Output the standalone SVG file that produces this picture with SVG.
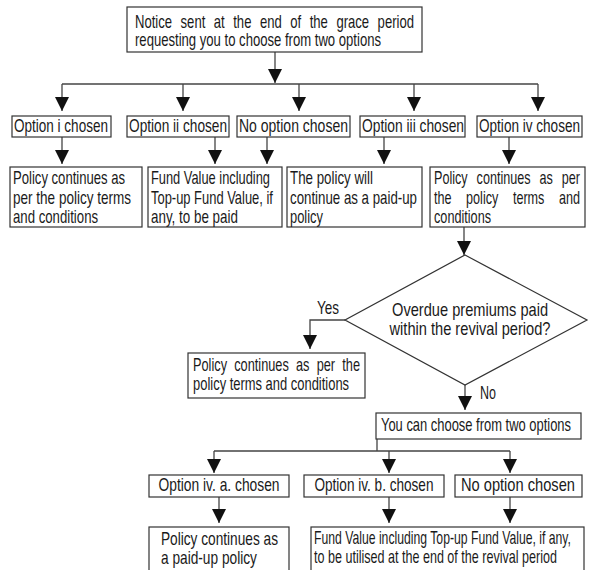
<svg xmlns="http://www.w3.org/2000/svg" width="597" height="570" viewBox="0 0 597 570">
<defs>
<style>
.b{fill:#fff;stroke:#333;stroke-width:1.2}
.t{font-family:"Liberation Sans","Arial",sans-serif;font-size:17.5px;fill:#1a1a1a}
.tc{text-anchor:middle}
.c{fill:none;stroke:#444;stroke-width:1.3}
</style>
<marker id="ah" markerUnits="userSpaceOnUse" markerWidth="14" markerHeight="14" refX="13" refY="6.5" orient="auto" viewBox="0 0 13 13">
<path d="M0,0 L13,6.5 L0,13 z" fill="#111"/>
</marker>
</defs>
<rect width="597" height="570" fill="#fff"/>

<g id="connectors">
<path class="c" d="M275,52 V83" marker-end="url(#ah)"/>
<path class="c" d="M62,84 H538"/>
<path class="c" d="M62,84 V111" marker-end="url(#ah)"/>
<path class="c" d="M183,84 V111" marker-end="url(#ah)"/>
<path class="c" d="M299,84 V111" marker-end="url(#ah)"/>
<path class="c" d="M414,84 V111" marker-end="url(#ah)"/>
<path class="c" d="M538,84 V111" marker-end="url(#ah)"/>
<path class="c" d="M62,137 V164" marker-end="url(#ah)"/>
<path class="c" d="M215,137 V164" marker-end="url(#ah)"/>
<path class="c" d="M267,137 V164" marker-end="url(#ah)"/>
<path class="c" d="M384,137 V164" marker-end="url(#ah)"/>
<path class="c" d="M509,137 V164" marker-end="url(#ah)"/>
<path class="c" d="M464,227 V255" marker-end="url(#ah)"/>
<path class="c" d="M345,320 H310 V349" marker-end="url(#ah)"/>
<path class="c" d="M465,385 V410" marker-end="url(#ah)"/>
<path class="c" d="M377,439 V451 M214,451 H510"/>
<path class="c" d="M214,451 V473" marker-end="url(#ah)"/>
<path class="c" d="M389,451 V473" marker-end="url(#ah)"/>
<path class="c" d="M510,451 V473" marker-end="url(#ah)"/>
<path class="c" d="M219,497 V523" marker-end="url(#ah)"/>
<path class="c" d="M389,497 V523" marker-end="url(#ah)"/>
<path class="c" d="M510,497 V523" marker-end="url(#ah)"/>
<g transform="scale(0.72,1)">
<text class="t" x="440.3" y="314" textLength="30.6" lengthAdjust="spacingAndGlyphs">Yes</text>
<text class="t" x="666.7" y="399" textLength="22.2" lengthAdjust="spacingAndGlyphs">No</text>
</g>
</g>

<g id="notice">
<rect class="b" x="127" y="7" width="295" height="45"/>
<g transform="scale(0.72,1)">
<text class="t" style="font-size:18px;word-spacing:6.7px" x="187.5" y="28" textLength="387.5" lengthAdjust="spacingAndGlyphs">Notice sent at the end of the grace period</text>
<text class="t" style="font-size:18px" x="187.5" y="46" textLength="341.7" lengthAdjust="spacingAndGlyphs">requesting you to choose from two options</text>
</g>
</g>

<g id="opt-i">
<rect class="b" x="12" y="116" width="99" height="21"/>
<g transform="scale(0.72,1)"><text class="t" x="19.4" y="132" textLength="130.6" lengthAdjust="spacingAndGlyphs">Option i chosen</text></g>
</g>
<g id="opt-ii">
<rect class="b" x="127" y="116" width="102" height="21"/>
<g transform="scale(0.72,1)"><text class="t" x="179.2" y="132" textLength="136.1" lengthAdjust="spacingAndGlyphs">Option ii chosen</text></g>
</g>
<g id="opt-none">
<rect class="b" x="237" y="116" width="113" height="21"/>
<g transform="scale(0.72,1)"><text class="t" x="331.9" y="132" textLength="151.4" lengthAdjust="spacingAndGlyphs">No option chosen</text></g>
</g>
<g id="opt-iii">
<rect class="b" x="360" y="116" width="105" height="21"/>
<g transform="scale(0.72,1)"><text class="t" x="502.8" y="132" textLength="141.7" lengthAdjust="spacingAndGlyphs">Option iii chosen</text></g>
</g>
<g id="opt-iv">
<rect class="b" x="477" y="116" width="105" height="21"/>
<g transform="scale(0.72,1)"><text class="t" x="665.3" y="132" textLength="140.3" lengthAdjust="spacingAndGlyphs">Option iv chosen</text></g>
</g>

<g id="res-i">
<rect class="b" x="10" y="167" width="132" height="60"/>
<g transform="scale(0.72,1)">
<text class="t" x="18.1" y="184" textLength="155.6" lengthAdjust="spacingAndGlyphs">Policy continues as</text>
<text class="t" x="18.1" y="204" textLength="163.9" lengthAdjust="spacingAndGlyphs">per the policy terms</text>
<text class="t" x="18.1" y="223" textLength="118.1" lengthAdjust="spacingAndGlyphs">and conditions</text>
</g>
</g>
<g id="res-ii">
<rect class="b" x="148" y="167" width="134" height="60"/>
<g transform="scale(0.72,1)">
<text class="t" x="209.7" y="184" textLength="165.3" lengthAdjust="spacingAndGlyphs">Fund Value including</text>
<text class="t" x="209.7" y="204" textLength="169.4" lengthAdjust="spacingAndGlyphs">Top-up Fund Value, if</text>
<text class="t" x="209.7" y="223" textLength="120.8" lengthAdjust="spacingAndGlyphs">any, to be paid</text>
</g>
</g>
<g id="res-iii">
<rect class="b" x="287" y="167" width="135" height="60"/>
<g transform="scale(0.72,1)">
<text class="t" x="402.8" y="184" textLength="115.3" lengthAdjust="spacingAndGlyphs">The policy will</text>
<text class="t" x="402.8" y="204" textLength="176.4" lengthAdjust="spacingAndGlyphs">continue as a paid-up</text>
<text class="t" x="402.8" y="223" textLength="45.8" lengthAdjust="spacingAndGlyphs">policy</text>
</g>
</g>
<g id="res-iv">
<rect class="b" x="430" y="167" width="155" height="60"/>
<g transform="scale(0.72,1)">
<text class="t" style="word-spacing:7.6px" x="602.8" y="184" textLength="202.8" lengthAdjust="spacingAndGlyphs">Policy continues as per</text>
<text class="t" style="word-spacing:15.4px" x="602.8" y="204" textLength="202.8" lengthAdjust="spacingAndGlyphs">the policy terms and</text>
<text class="t" x="602.8" y="223" textLength="79.2" lengthAdjust="spacingAndGlyphs">conditions</text>
</g>
</g>

<g id="decision">
<polygon class="b" points="465,255 587,320 465,385 345,320"/>
<g transform="scale(0.72,1)">
<text class="t tc" x="652.8" y="316" textLength="216.7" lengthAdjust="spacingAndGlyphs">Overdue premiums paid</text>
<text class="t tc" x="652.8" y="335" textLength="223.6" lengthAdjust="spacingAndGlyphs">within the revival period?</text>
</g>
</g>

<g id="res-yes">
<rect class="b" x="188" y="353" width="177" height="45"/>
<g transform="scale(0.72,1)">
<text class="t" style="word-spacing:5px" x="268.1" y="371" textLength="231.9" lengthAdjust="spacingAndGlyphs">Policy continues as per the</text>
<text class="t" x="268.1" y="390" textLength="216.7" lengthAdjust="spacingAndGlyphs">policy terms and conditions</text>
</g>
</g>

<g id="choose">
<rect class="b" x="376" y="413" width="205" height="26"/>
<g transform="scale(0.72,1)"><text class="t tc" x="661.1" y="431" textLength="263.9" lengthAdjust="spacingAndGlyphs">You can choose from two options</text></g>
</g>

<g id="opt-iva">
<rect class="b" x="149" y="475" width="140" height="22"/>
<g transform="scale(0.72,1)"><text class="t tc" x="304.2" y="491" textLength="168.1" lengthAdjust="spacingAndGlyphs">Option iv. a. chosen</text></g>
</g>
<g id="opt-ivb">
<rect class="b" x="304" y="475" width="140" height="22"/>
<g transform="scale(0.72,1)"><text class="t tc" x="519.4" y="491" textLength="165.3" lengthAdjust="spacingAndGlyphs">Option iv. b. chosen</text></g>
</g>
<g id="opt-none2">
<rect class="b" x="455" y="475" width="127" height="22"/>
<g transform="scale(0.72,1)"><text class="t tc" x="719.4" y="491" textLength="158.3" lengthAdjust="spacingAndGlyphs">No option chosen</text></g>
</g>

<g id="res-iva">
<rect class="b" x="149" y="527" width="140" height="50"/>
<g transform="scale(0.72,1)">
<text class="t" x="223.6" y="545" textLength="162.5" lengthAdjust="spacingAndGlyphs">Policy continues as</text>
<text class="t" x="223.6" y="564" textLength="133.3" lengthAdjust="spacingAndGlyphs">a paid-up policy</text>
</g>
</g>
<g id="res-ivb">
<rect class="b" x="311" y="527" width="273" height="50"/>
<g transform="scale(0.72,1)">
<text class="t" x="436.1" y="544" textLength="356.9" lengthAdjust="spacingAndGlyphs">Fund Value including Top-up Fund Value, if any,</text>
<text class="t" x="436.1" y="563" textLength="337.5" lengthAdjust="spacingAndGlyphs">to be utilised at the end of the revival period</text>
</g>
</g>
</svg>
